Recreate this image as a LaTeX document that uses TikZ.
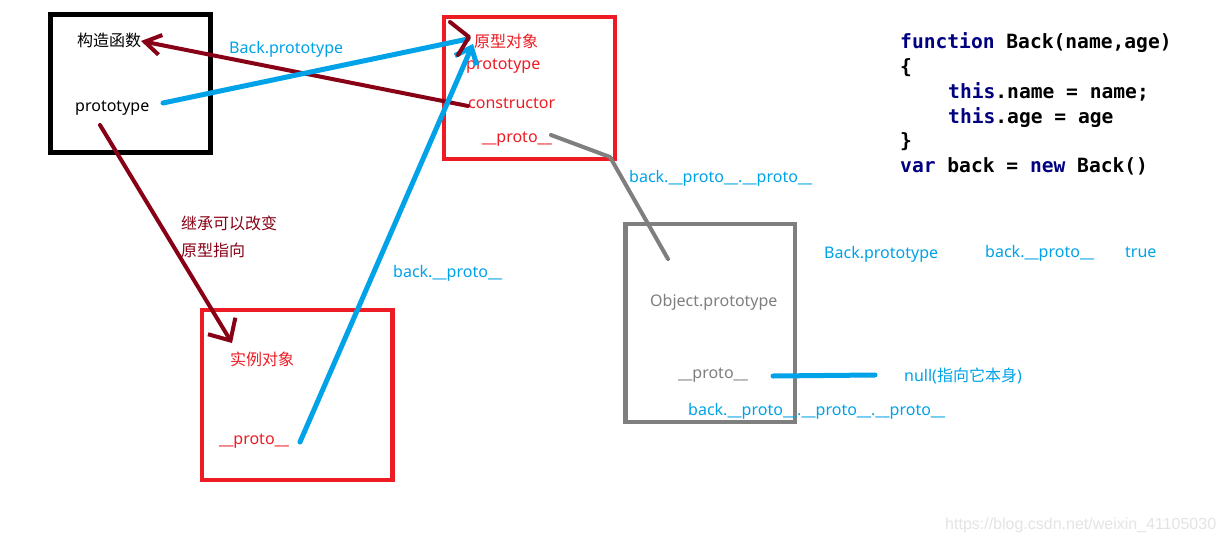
\documentclass[tikz,border=0pt]{standalone}
\usepackage{fontspec}
\setmainfont{Noto Sans}
\newfontfamily\cjk{Noto Sans CJK SC}
\newfontfamily\codefont{DejaVu Sans Mono}
\newfontfamily\wmfont{Liberation Sans}
\usetikzlibrary{arrows.meta}
\definecolor{pred}{RGB}{237,28,36}
\definecolor{pblue}{RGB}{0,162,232}
\definecolor{pmaroon}{RGB}{136,0,21}
\definecolor{pgray}{RGB}{127,127,127}
\definecolor{kw}{RGB}{0,0,128}
\definecolor{wm}{RGB}{228,228,228}
\tikzset{
  txt/.style={anchor=base west, inner sep=0pt, font=\fontsize{16}{19}\selectfont},
  cjktxt/.style={txt, font=\cjk\fontsize{16}{19}\selectfont},
  code/.style={anchor=base west, inner sep=0pt, font=\codefont\bfseries\fontsize{19.6}{25}\selectfont},
  boxline/.style={line width=#1, line join=miter},
  mline/.style={draw=pmaroon, line width=4pt, line cap=round, line join=round},
  bline/.style={draw=pblue, line width=5pt, line cap=round, line join=round},
  gline/.style={draw=pgray, line width=4pt, line cap=round, line join=round},
}
\begin{document}
\begin{tikzpicture}[x=1pt,y=-1pt]
\useasboundingbox[fill=white] (0,0) rectangle (1226,541);
% boxes
\draw[boxline=5pt, draw=black] (50.5,14.5) rectangle (210.5,152);
\draw[boxline=4pt, draw=pred] (444,17) rectangle (615,158.5);
\draw[boxline=4.5pt, draw=pred] (202,310) rectangle (392.5,480);
\draw[boxline=4.5pt, draw=pgray] (625.5,224) rectangle (795,422);
% texts
\node[cjktxt] (gz) at (77,46) {构造函数};
\node[txt] (ctorproto) at (75,111) {prototype};
\node[txt, text=pblue] (lblbp) at (229,53) {Back.prototype};
\node[cjktxt, text=pred] (yx) at (474,47) {原型对象};
\node[txt, text=pred] (yxproto) at (466,69) {prototype};
\node[txt, text=pred] (ctor) at (468,108) {constructor};
\node[txt, text=pred] (yxpp) at (482,142) {\_\_proto\_\_};
\node[txt, text=pblue] (lblbpp) at (629,182) {back.\_\_proto\_\_.\_\_proto\_\_};
\node[cjktxt, text=pmaroon] (jc1) at (181,229) {继承可以改变};
\node[cjktxt, text=pmaroon] (jc2) at (181,256) {原型指向};
\node[txt, text=pblue] (lblbp2) at (393,277) {back.\_\_proto\_\_};
\node[txt, text=pblue] (eq1) at (824,258) {Back.prototype};
\node[txt, text=pblue] (eq2) at (985,257) {back.\_\_proto\_\_};
\node[txt, text=pblue] (eq3) at (1125,257) {true};
\node[txt, text=pgray] (objp) at (650,306) {Object.prototype};
\node[cjktxt, text=pred] (sl) at (230,365) {实例对象};
\node[txt, text=pgray] (objpp) at (678,378) {\_\_proto\_\_};
\node[txt, text=pblue] (nul) at (904,381) {null({\cjk 指向它本身})};
\node[txt, text=pblue] (lblbppp) at (688,415) {back.\_\_proto\_\_.\_\_proto\_\_.\_\_proto\_\_};
\node[txt, text=pred] (slpp) at (219,444) {\_\_proto\_\_};
% code
\node[code] (l1) at (900,48) {\textcolor{kw}{function} Back(name,age)};
\node[code] (l2) at (900,73) {\{};
\node[code] (l3) at (948,98) {\textcolor{kw}{this}.name = name;};
\node[code] (l4) at (948,123) {\textcolor{kw}{this}.age = age};
\node[code] (l5) at (900,147) {\}};
\node[code] (l6) at (900,172) {\textcolor{kw}{var} back = \textcolor{kw}{new} Back()};
% watermark
\node[anchor=base west, inner sep=0pt, text=wm, font=\wmfont\fontsize{16}{19}\selectfont] (wmk) at (945,529) {https://blog.csdn.net/weixin\_41105030};
% connector end points
\coordinate (ctorS) at (468,106);
\coordinate (gzE) at (141,41);
\coordinate (cpS) at (163,103);
\coordinate (yxW) at (468,39);
\coordinate (slS) at (300,442);
\coordinate (yxT) at (473,44);
\coordinate (cpD) at (100,125);
\coordinate (slT) at (232,343);
\coordinate (hA) at (450,22);
\coordinate (hT) at (469,37);
\coordinate (hB) at (458,55);
\coordinate (ppS) at (551,135);
\coordinate (ppM) at (610,157);
\coordinate (ppE) at (668,259);
\coordinate (nS) at (773,376);
\coordinate (nE) at (875,375);
% connectors
\draw[mline, -{Straight Barb[length=16pt,width=20pt]}] (ctorS) -- (gzE);
\draw[bline] (cpS) -- (yxW);
\draw[bline, -{Straight Barb[length=14pt,width=24pt]}] (slS) -- (yxT);
\draw[mline, -{Straight Barb[length=17pt,width=32pt]}] (cpD) -- (slT);
\draw[mline] (hA) -- (hT) -- (hB);
\draw[gline] (ppS) -- (ppM) -- (ppE);
\draw[bline] (nS) -- (nE);
\end{tikzpicture}
\end{document}
